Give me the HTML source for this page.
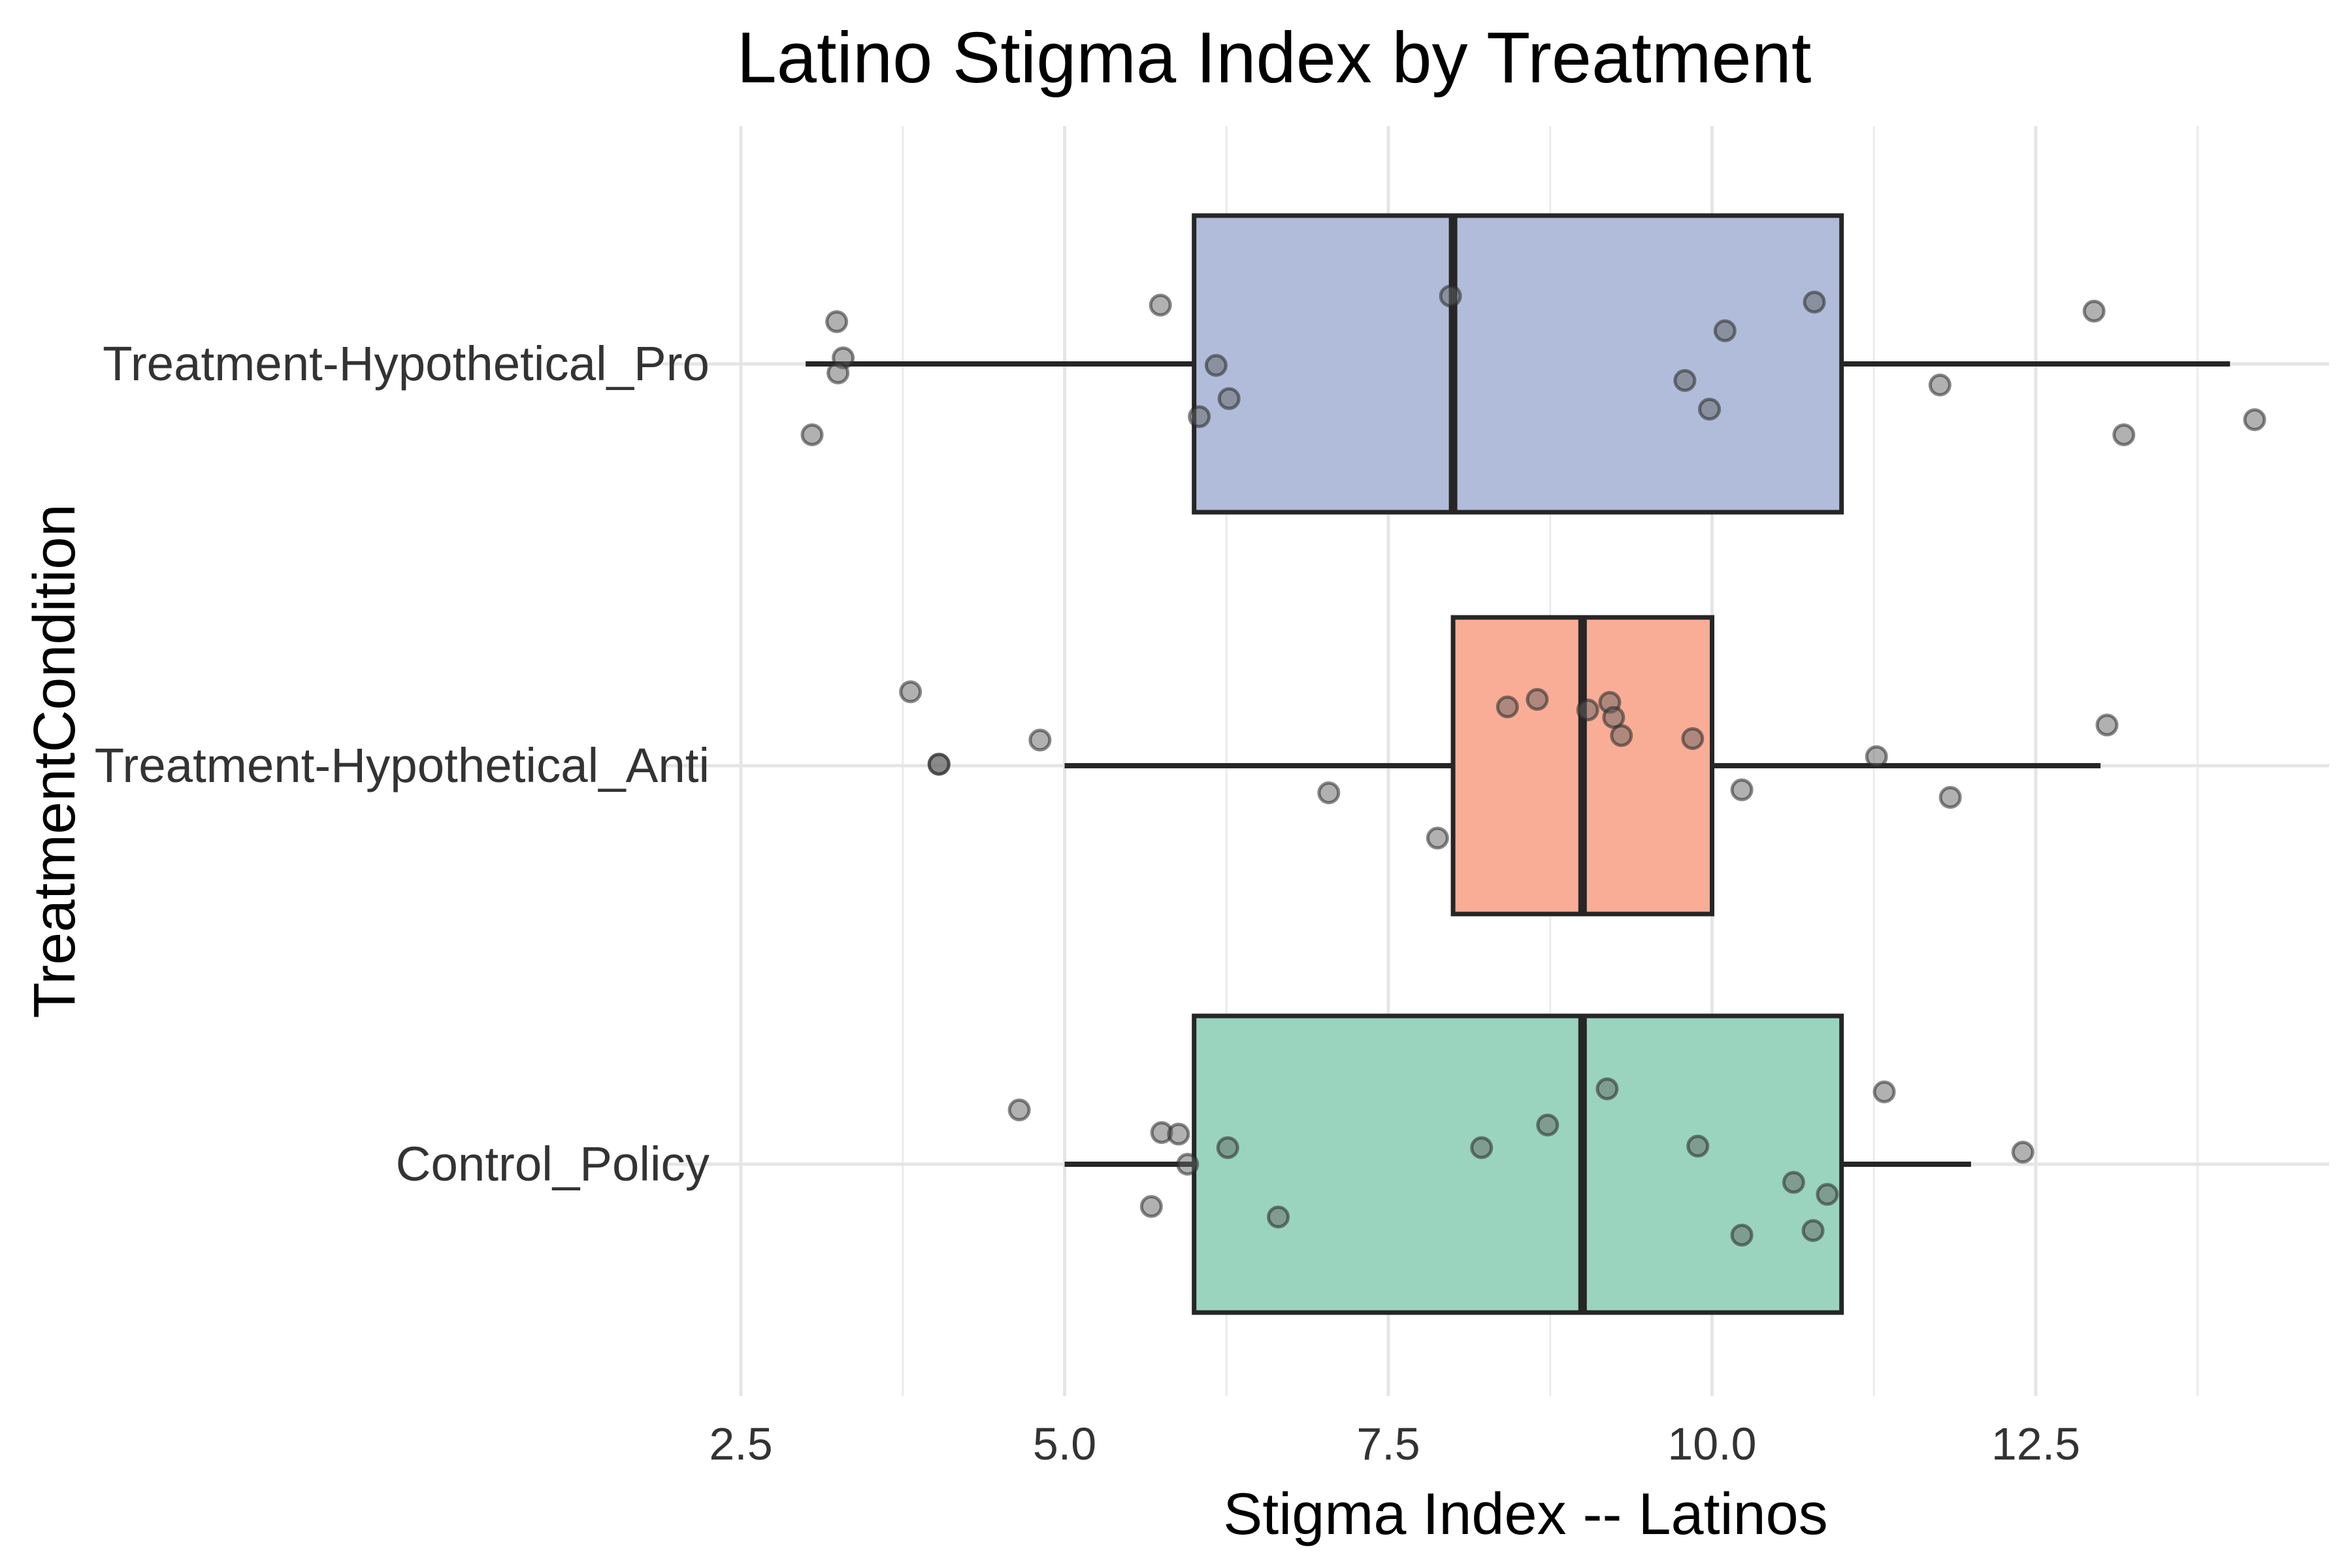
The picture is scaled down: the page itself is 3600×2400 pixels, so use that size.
<!DOCTYPE html>
<html><head><meta charset="utf-8"><style>
html,body{margin:0;padding:0;background:#fff;}
svg{display:block;font-family:"Liberation Sans",sans-serif;}
</style></head><body>
<svg id="chart" width="3600" height="2400" viewBox="0 0 3600 2400" xmlns="http://www.w3.org/2000/svg">
<rect width="3600" height="2400" fill="#fff"/>
<text x="1950" y="126" font-size="110" text-anchor="middle" fill="#000">Latino Stigma Index by Treatment</text>
<text x="2335" y="2348" font-size="90" text-anchor="middle" fill="#000">Stigma Index -- Latinos</text>
<text x="0" y="0" font-size="90" text-anchor="middle" fill="#000" transform="translate(114,1165) rotate(-90)">TreatmentCondition</text>
<g id="grid"></g><g id="boxes"></g><g id="points"></g><g id="labels"></g>
</svg>
<script>
const categories = ["Treatment-Hypothetical_Pro","Treatment-Hypothetical_Anti","Control_Policy"];
const whiskerLow = [3, 5, 5];
const q1 = [6, 8, 6];
const medians = [8, 9, 9];
const q3 = [11, 10, 11];
const whiskerHigh = [14, 13, 12];
const fills = ["#b0bcd9","#f9ad96","#9ad4be"];
const xTicks = [2.5, 5.0, 7.5, 10.0, 12.5];
const xTickLabels = ["2.5","5.0","7.5","10.0","12.5"];
const minorTicks = [3.75, 6.25, 8.75, 11.25, 13.75];
const proValues = [3.24,3.29,3.25,3.05,5.74,7.98,6.17,6.27,6.04,10.1,10.79,9.79,9.98,11.76,12.95,13.18,14.19];
const proJitter = [-28,-4,6,47,-39,-45,1,23,35,-22,-41,11,30,14,-35,47,37];
const antiValues = [3.81,4.03,4.03,4.81,7.04,7.88,8.42,8.65,9.04,9.21,9.24,9.30,9.85,10.23,11.27,11.84,13.05];
const antiJitter = [-49,-1,-1,-17,18,48,-39,-44,-37,-42,-32,-20,-18,16,-6,21,-27];
const controlValues = [4.65,5.75,5.88,5.95,5.67,6.26,6.65,8.22,8.73,9.19,9.89,10.23,10.63,10.78,10.89,11.33,12.40];
const controlJitter = [-36,-21,-20,0,28,-11,35,-11,-26,-50,-12,47,12,44,20,-48,-8];

const NS="http://www.w3.org/2000/svg";
const PL=1133-0.6*198, PR=3565, PT=193, PB=2137;
function xs(v){return 1134+(v-2.5)*198.2;}
const catY=[557,1172,1782];
function ys(i){return catY[i];}
const JS=2.3077;
function mk(tag,attrs,parent){const e=document.createElementNS(NS,tag);for(const k in attrs)e.setAttribute(k,attrs[k]);document.getElementById(parent).appendChild(e);return e;}

minorTicks.forEach(t=>{
  const l=mk('line',{x1:xs(t),x2:xs(t),y1:PT,y2:PB,stroke:'#ebebeb','stroke-width':3},'grid');
  
  
});
xTicks.forEach((t,i)=>{
  const l=mk('line',{x1:xs(t),x2:xs(t),y1:PT,y2:PB,stroke:'#e5e5e5','stroke-width':5},'grid');
  
  
  const tx=mk('text',{x:xs(t),y:2234,'font-size':70,'text-anchor':'middle',fill:'#333'},'labels');
  tx.textContent=xTickLabels[i];
  
  
});
categories.forEach((c,i)=>{
  const y=ys(i);
  const g=mk('line',{x1:PL,x2:PR,y1:y,y2:y,stroke:'#e5e5e5','stroke-width':5},'grid');
  
  
  const tx=mk('text',{x:1086,y:y+25,'font-size':74.5,'text-anchor':'end',fill:'#333'},'labels');
  tx.textContent=c;
  
  
  const w1=mk('line',{x1:xs(whiskerLow[i]),x2:xs(q1[i]),y1:y,y2:y,stroke:'#262626','stroke-width':8},'boxes');
  
  
  const w2=mk('line',{x1:xs(q3[i]),x2:xs(whiskerHigh[i]),y1:y,y2:y,stroke:'#262626','stroke-width':8},'boxes');
  
  
  const r=mk('rect',{x:xs(q1[i]),y:y-227,width:xs(q3[i])-xs(q1[i]),height:454,fill:fills[i],stroke:'#262626','stroke-width':7},'boxes');
  
  
  const m=mk('line',{x1:xs(medians[i]),x2:xs(medians[i]),y1:y-227,y2:y+227,stroke:'#262626','stroke-width':13},'boxes');
  
  
});
[[proValues,proJitter],[antiValues,antiJitter],[controlValues,controlJitter]].forEach((s,i)=>{
  s[0].forEach((v,j)=>{
    const p=mk('circle',{cx:xs(v),cy:ys(i)+s[1][j]*JS,r:15,fill:'rgba(100,100,100,0.5)',stroke:'rgba(40,40,40,0.55)','stroke-width':5},'points');
    
    
  });
});
</script>
</body></html>
